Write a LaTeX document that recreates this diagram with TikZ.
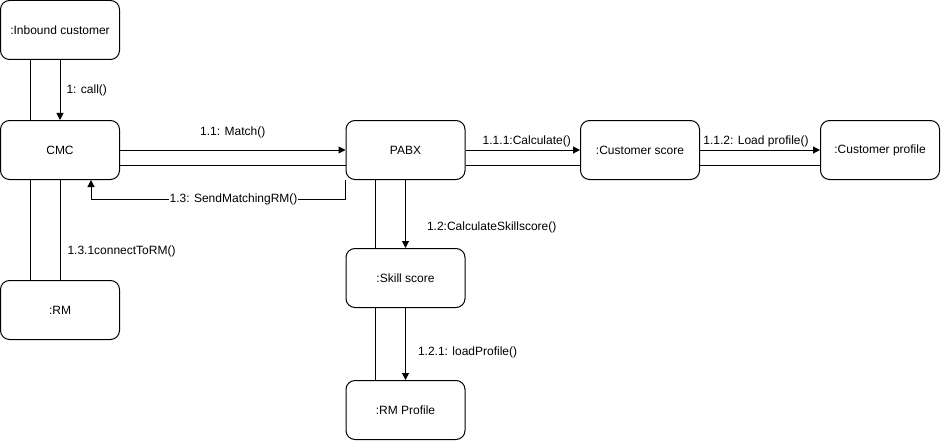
\documentclass[tikz,border=0pt]{standalone}
\usepackage{fontspec}
\setmainfont{Liberation Sans}
\usetikzlibrary{arrows.meta}
\begin{document}
\begin{tikzpicture}[x=1pt,y=-1pt,
  obj/.style={draw,line width=1pt,rounded corners=9pt,minimum width=119pt,minimum height=59pt,inner sep=0pt,font=\fontsize{12}{14}\selectfont},
  lnk/.style={line width=1pt},
  msg/.style={line width=1pt,-{Triangle[length=7pt,width=7pt]}},
  lab/.style={inner sep=0pt,font=\fontsize{12}{14}\selectfont}]
\useasboundingbox (0,0) rectangle (941,441);
\node[obj] (ib) at (60,30) {:Inbound customer};
\node[obj] (cmc) at (60,150) {CMC};
\node[obj] (rm) at (60,310) {:RM};
\node[obj] (pabx) at (405.5,150) {PABX};
\node[obj] (cs) at (640,150) {:Customer score};
\node[obj] (cp) at (880,150) {:Customer profile};
\node[obj] (ss) at (405.5,278) {:Skill score};
\node[obj] (rmp) at (405.5,410) {:RM Profile};
% Inbound - CMC
\draw[lnk] ([xshift=-30pt]ib.south) -- ([xshift=-30pt]cmc.north);
\draw[msg] (ib.south) -- node[lab,anchor=west,xshift=6pt]{1: call()} (cmc.north);
% CMC - RM
\draw[lnk] ([xshift=-30pt]cmc.south) -- ([xshift=-30pt]rm.north);
\draw[lnk] (cmc.south) -- node[lab,pos=0.71,anchor=west,xshift=7pt]{1.3.1connectToRM()} (rm.north);
% CMC - PABX
\draw[msg] (cmc.east) -- node[lab,yshift=18pt]{1.1: Match()} (pabx.west);
\draw[lnk] ([yshift=-15pt]cmc.east) -- ([yshift=-15pt]pabx.west);
\draw[msg] (pabx.south west) -- ++(0,19) -| node[lab,pos=0.22,fill=white,inner xsep=1pt]{1.3: SendMatchingRM()} ([xshift=31pt]cmc.south);
% PABX - Customer score
\draw[msg] (pabx.east) -- node[lab,yshift=8.5pt,xshift=4pt]{1.1.1:Calculate()} (cs.west);
\draw[lnk] ([yshift=-15pt]pabx.east) -- ([yshift=-15pt]cs.west);
% Customer score - Customer profile
\draw[msg] (cs.east) -- node[lab,yshift=8.5pt,xshift=-4pt]{1.1.2: Load profile()} (cp.west);
\draw[lnk] ([yshift=-15pt]cs.east) -- ([yshift=-15pt]cp.west);
% PABX - Skill score
\draw[lnk] ([xshift=-30pt]pabx.south) -- ([xshift=-30pt]ss.north);
\draw[msg] (pabx.south) -- node[lab,pos=0.69,anchor=west,xshift=21pt]{1.2:CalculateSkillscore()} (ss.north);
% Skill score - RM Profile
\draw[lnk] ([xshift=-30pt]ss.south) -- ([xshift=-30pt]rmp.north);
\draw[msg] (ss.south) -- node[lab,pos=0.61,anchor=west,xshift=12pt]{1.2.1: loadProfile()} (rmp.north);
\end{tikzpicture}
\end{document}
